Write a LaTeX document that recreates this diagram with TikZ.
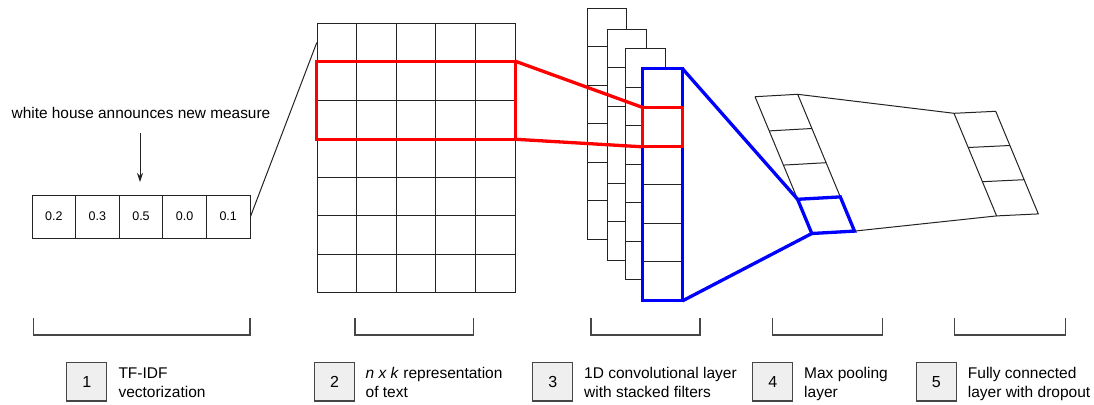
\documentclass[tikz,border=0pt]{standalone}
\usepackage{fontspec}
\setmainfont{Liberation Sans}
\usetikzlibrary{arrows.meta,calc}
\definecolor{redc}{RGB}{255,0,0}
\definecolor{bluec}{RGB}{0,0,255}
\definecolor{boxfill}{RGB}{239,239,239}
\definecolor{linec}{RGB}{35,35,35}
\definecolor{brc}{RGB}{70,70,70}
\begin{document}
\begin{tikzpicture}[x=1pt,y=-1pt,
  thinl/.style={draw=linec,line width=1pt},
  veccell/.style={thinl,minimum width=43.6pt,minimum height=43pt,inner sep=0pt,font=\fontsize{12.5}{15}\selectfont},
  gridcell/.style={thinl,minimum width=39.54pt,minimum height=38.49pt,inner sep=0pt},
  filtcell/.style={thinl,fill=white,minimum width=39.4pt,minimum height=38.5pt,inner sep=0pt},
  redl/.style={draw=redc,line width=3.3pt,line join=miter},
  bluel/.style={draw=bluec,line width=3.3pt,line join=miter},
  bracketl/.style={draw=brc,line width=1.2pt},
  numbox/.style={draw=brc,line width=1.2pt,fill=boxfill,minimum width=40pt,minimum height=38.4pt,inner sep=0pt,font=\fontsize{16}{19}\selectfont},
  lab/.style={align=left,inner sep=0pt,font=\fontsize{15.5}{19}\selectfont},
  toptext/.style={inner sep=0pt,font=\fontsize{15.4}{19}\selectfont}
]
\useasboundingbox (0,0) rectangle (1094,404);

% 1: TF-IDF vector
\node[toptext] (sent) at (141,113) {white house announces new measure};
\foreach \i/\v in {0/0.2,1/0.3,2/0.5,3/0.0,4/0.1}
  \node[veccell] (v\i) at ({32+43.6*\i+21.8},216.5) {\v};
\coordinate (arrS) at (140,133);
\coordinate (arrE) at (140,182);
\draw[thinl,-{Stealth[length=9pt,width=6pt]}] (arrS) -- (arrE);

% 2: n x k grid
\foreach \r in {0,...,6}
  \foreach \c in {0,...,4}
    \node[gridcell] (g-\r-\c) at ({317.3+39.54*\c+19.77},{23.3+38.49*\r+19.245}) {};
\draw[thinl] (v4.east) -- (g-0-0.west);
\draw[redl] (g-1-0.north west) rectangle (g-2-4.south east);

% 3: stacked filters
\foreach \k/\fx/\fy in {0/587.3/8.3,1/607.3/29.3,2/625.7/48.7,3/642.7/69.3}
  \foreach \j in {0,...,5}
    \node[filtcell] (f-\k-\j) at ({\fx+19.7},{\fy+38.5*\j+19.25}) {};
\draw[bluel] (f-3-0.north west) rectangle (f-3-5.south east);
\draw[redl] (f-3-1.north west) rectangle (f-3-1.south east);
\draw[redl] (g-1-4.north east) -- (f-3-1.north west);
\draw[redl] (g-2-4.south east) -- (f-3-1.south west);

% 4: max pooling layer
\foreach \i in {0,...,4} {
  \coordinate (p-\i-l) at ({755+14.2*\i},{96.7+34.2*\i});
  \coordinate (p-\i-r) at ({797.7+14.2*\i},{94.3+34.2*\i});
}
\draw[thinl] (p-0-l) -- (p-0-r) -- (p-3-r);
\draw[thinl] (p-0-l) -- (p-3-l);
\draw[thinl] (p-1-l) -- (p-1-r);
\draw[thinl] (p-2-l) -- (p-2-r);
\draw[bluel] (p-3-l) -- (p-3-r) -- (p-4-r) -- (p-4-l) -- cycle;
\draw[bluel] (f-3-0.north east) -- (p-3-l);
\draw[bluel] (f-3-5.south east) -- (p-4-l);

% 5: fully connected layer
\foreach \i in {0,...,3} {
  \coordinate (q-\i-l) at ({954+14.2*\i},{113.3+34.2*\i});
  \coordinate (q-\i-r) at ({995.7+14.2*\i},{111.3+34.2*\i});
}
\draw[thinl] (q-0-l) -- (q-0-r) -- (q-3-r) -- (q-3-l) -- cycle;
\draw[thinl] (q-1-l) -- (q-1-r);
\draw[thinl] (q-2-l) -- (q-2-r);
\draw[thinl] (p-0-r) -- (q-0-l);
\draw[thinl] (p-4-r) -- (q-3-l);

% brackets
\foreach \a/\b in {33.3/250,355/473.3,591/700,772.3/882.3,954.3/1065.7}
  \draw[bracketl] (\a,318) -- (\a,335) -- (\b,335) -- (\b,318);

% legend
\node[numbox] (n1) at (86.7,381.8) {1};
\node[numbox] (n2) at (334.5,381.8) {2};
\node[numbox] (n3) at (552.7,381.8) {3};
\node[numbox] (n4) at (772.8,381.8) {4};
\node[numbox] (n5) at (936.3,381.8) {5};
\node[lab,anchor=base west] (l1) at (118.3,397) {TF-IDF\\vectorization};
\node[lab,anchor=base west] (l2) at (365.5,397) {\textit{n x k} representation\\of text};
\node[lab,anchor=base west] (l3) at (584,397) {1D convolutional layer\\with stacked filters};
\node[lab,anchor=base west] (l4) at (804,397) {Max pooling\\layer};
\node[lab,anchor=base west] (l5) at (967.7,397) {Fully connected\\layer with dropout};
\end{tikzpicture}
\end{document}
